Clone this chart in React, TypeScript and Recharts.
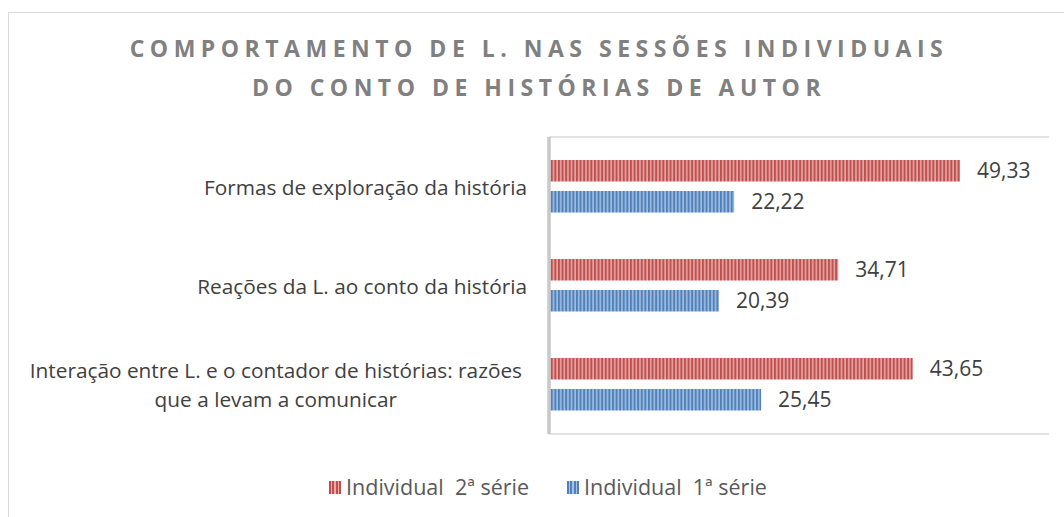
import React from "react";
import { BarChart, Bar, XAxis, YAxis, LabelList, Legend } from "recharts";

const categories = [
  "Formas de exploração da história",
  "Reações da L. ao conto da história",
  "Interação entre L. e o contador de histórias: razões\nque a levam a comunicar",
];
const serie2 = [49.33, 34.71, 43.65];
const serie1 = [22.22, 20.39, 25.45];
const seriesNames = ["Individual  2ª série", "Individual  1ª série"];
const titleLines = [
  "COMPORTAMENTO DE L. NAS SESSÕES INDIVIDUAIS",
  "DO CONTO DE HISTÓRIAS DE AUTOR",
];
const xDomain = [0, 60];

const data = categories.map((c, i) => ({ cat: c, s2: serie2[i], s1: serie1[i] }));

const FONT = "'Open Sans', sans-serif";
const RED = "#C0504D";
const RED_L = "#E8AEAC";
const BLUE = "#4F81BD";
const BLUE_L = "#A9C2E0";

let canvasCtx: CanvasRenderingContext2D | null = null;
function measure(text: string, size: number) {
  if (!canvasCtx) {
    const c = document.createElement("canvas");
    canvasCtx = c.getContext("2d");
  }
  if (!canvasCtx) return text.length * size * 0.5;
  canvasCtx.font = `${size}px 'Open Sans'`;
  return canvasCtx.measureText(text).width;
}

const CAT_SIZE = 20.8;
const CatTick = (props: any) => {
  const { x, y, payload } = props;
  const lines: string[] = String(payload.value).split("\n");
  if (lines.length === 1) {
    return (
      <text x={x} y={y} textAnchor="end" dominantBaseline="central" fontSize={CAT_SIZE} fill="#404040" fontFamily={FONT}>
        {lines[0]}
      </text>
    );
  }
  const maxW = Math.max(...lines.map((l) => measure(l, CAT_SIZE)));
  const cx = x - 5 - maxW / 2;
  const lh = 29;
  const y0 = y - ((lines.length - 1) * lh) / 2;
  return (
    <g>
      {lines.map((l, i) => (
        <text key={i} x={cx} y={y0 + i * lh} textAnchor="middle" dominantBaseline="central" fontSize={CAT_SIZE} fill="#404040" fontFamily={FONT}>
          {l}
        </text>
      ))}
    </g>
  );
};

const fmt = (v: any) => Number(v).toFixed(2).replace(".", ",");

const LegendContent = () => {
  const items = [
    { name: seriesNames[0], c: RED, l: RED_L },
    { name: seriesNames[1], c: BLUE, l: BLUE_L },
  ];
  return (
    <div style={{ display: "flex", justifyContent: "center", gap: 38, paddingLeft: 32, fontFamily: FONT, fontSize: 21.5, color: "#595959", lineHeight: "26px" }}>
      {items.map((it) => (
        <div key={it.name} style={{ display: "flex", alignItems: "center" }}>
          <span
            style={{
              display: "inline-block",
              width: 12,
              height: 13,
              marginRight: 5,
              background: `repeating-linear-gradient(90deg, ${it.c} 0px, ${it.c} 2px, ${it.l} 2px, ${it.l} 3.5px)`,
            }}
          />
          <span style={{ whiteSpace: "pre" }}>{it.name}</span>
        </div>
      ))}
    </div>
  );
};

export default function App() {
  return (
    <div style={{ position: "absolute", left: 0, top: 0, width: 1064, height: 517, overflow: "hidden", background: "#fff" }}>
      <div
        style={{
          position: "absolute",
          left: 8,
          top: 12,
          width: 1100,
          height: 600,
          borderTop: "1.5px solid #D9D9D9",
          borderLeft: "1.5px solid #D9D9D9",
        }}
      />
      <div
        style={{
          position: "absolute",
          left: 0,
          top: 29,
          width: 1078,
          textAlign: "center",
          fontFamily: FONT,
          fontWeight: 700,
          fontSize: 23,
          letterSpacing: 5.5,
          lineHeight: "39px",
          color: "#808080",
        }}
      >
        {titleLines.map((t) => (
          <div key={t}>{t}</div>
        ))}
      </div>
      <div style={{ position: "absolute", left: 0, top: 0 }}>
        <BarChart
          width={1064}
          height={517}
          data={data}
          layout="vertical"
          margin={{ top: 136, right: 15, bottom: 82, left: 9 }}
          barSize={21.5}
          barGap={9.5}
        >
          <defs>
            <pattern id="pRed" patternUnits="userSpaceOnUse" width="3.6" height="10">
              <rect x="0" y="0" width="3.6" height="10" fill={RED} />
              <rect x="2" y="0" width="1.5" height="10" fill={RED_L} />
            </pattern>
            <pattern id="pBlue" patternUnits="userSpaceOnUse" width="3.6" height="10">
              <rect x="0" y="0" width="3.6" height="10" fill={BLUE} />
              <rect x="2" y="0" width="1.5" height="10" fill={BLUE_L} />
            </pattern>
          </defs>
          <XAxis type="number" domain={xDomain} height={1} tick={false} axisLine={{ stroke: "#D9D9D9", strokeWidth: 1.5 }} tickLine={false} />
          <XAxis xAxisId="top" orientation="top" type="number" domain={xDomain} height={1} tick={false} axisLine={{ stroke: "#D9D9D9", strokeWidth: 1.5 }} tickLine={false} />
          <Bar dataKey="s2" name={seriesNames[0]} fill="url(#pRed)" isAnimationActive={false}>
            <LabelList dataKey="s2" position="right" offset={17} formatter={fmt} fontSize={21} fill="#404040" fontFamily={FONT} />
          </Bar>
          <Bar dataKey="s1" name={seriesNames[1]} fill="url(#pBlue)" isAnimationActive={false}>
            <LabelList dataKey="s1" position="right" offset={17} formatter={fmt} fontSize={21} fill="#404040" fontFamily={FONT} />
          </Bar>
          <YAxis
            type="category"
            dataKey="cat"
            width={540}
            tick={<CatTick />}
            tickSize={0}
            tickMargin={22}
            tickLine={false}
            axisLine={{ stroke: "#C8C8C8", strokeWidth: 3.5 }}
            interval={0}
          />
          <Legend
            layout="horizontal"
            verticalAlign="middle"
            align="center"
            content={<LegendContent />}
            wrapperStyle={{ top: 474, left: 0, width: 1064 }}
          />
        </BarChart>
      </div>
    </div>
  );
}
